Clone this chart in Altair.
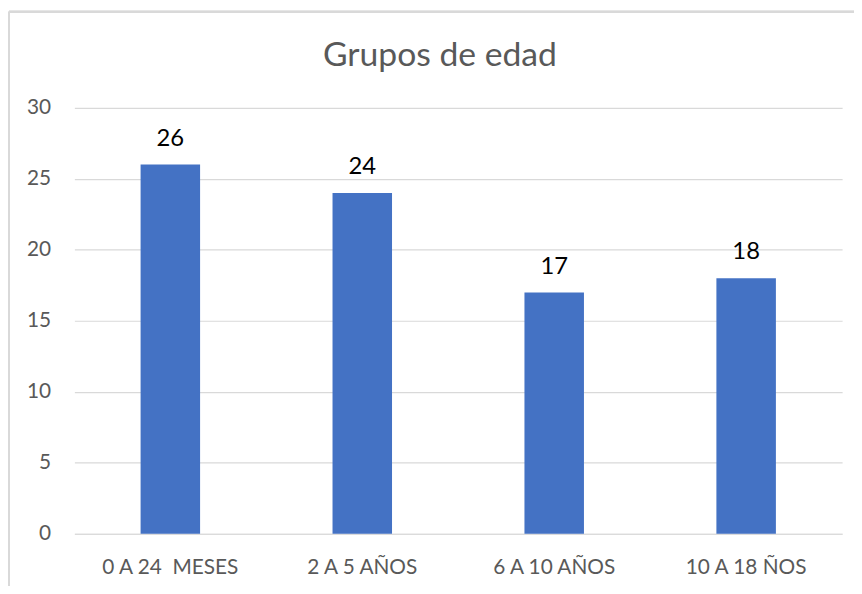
import altair as alt
import pandas as pd

categories = ["0 A 24\u00a0 MESES", "2 A 5 AÑOS", "6 A 10 AÑOS", "10 A 18 ÑOS"]
values = [26, 24, 17, 18]
y_ticks = [0, 5, 10, 15, 20, 25, 30]
title_text = "Grupos de edad"

df = pd.DataFrame({"grupo": categories, "n": values})

FONT = "Lato"
GREY = "#595959"

x = alt.X("grupo:N", sort=categories, title=None,
          scale=alt.Scale(paddingInner=0.69, paddingOuter=0.345),
          axis=alt.Axis(labelAngle=0, labelFontSize=21, labelColor=GREY, labelFont=FONT,
                        ticks=False, labelPadding=23, domainColor="#d9d9d9", domainWidth=1.2,
                        labelLimit=300))
y = alt.Y("n:Q", title=None,
          scale=alt.Scale(domain=[0, 30], nice=False),
          axis=alt.Axis(values=y_ticks, labelFontSize=21, labelColor=GREY, labelFont=FONT,
                        ticks=False, domain=False, labelPadding=24,
                        gridColor="#d9d9d9", gridWidth=1.2))

bars = alt.Chart(df).mark_bar(color="#4472C4").encode(x=x, y=y)
labels = alt.Chart(df).mark_text(baseline="bottom", dy=-14, fontSize=24, font=FONT,
                                 color="#000000").encode(x=alt.X("grupo:N", sort=categories),
                                                         y="n:Q", text="n:Q")

title = alt.Chart(pd.DataFrame({"t": [title_text]})).mark_text(
    fontSize=34, font=FONT, color=GREY, baseline="alphabetic", align="center").encode(
    x=alt.value(369), y=alt.value(-42), text="t:N")

border = alt.Chart(df).mark_rule(color="#d9d9d9", strokeWidth=2).encode(
    x=alt.value(-66), y=alt.value(-97), y2=alt.value(490))
border_top = alt.Chart(df).mark_rule(color="#d9d9d9", strokeWidth=2).encode(
    x=alt.value(-66), x2=alt.value(800), y=alt.value(-97))

chart = alt.layer(border, border_top, bars, labels, title).properties(
    width=775, height=430,
    autosize=alt.AutoSizeParams(type="none"),
    padding={"left": 67, "top": 98, "right": 12, "bottom": 50},
).configure(background="white", view=alt.ViewConfig(stroke=None))

chart.save("out.html", embed_options={"renderer": "svg", "actions": False})
